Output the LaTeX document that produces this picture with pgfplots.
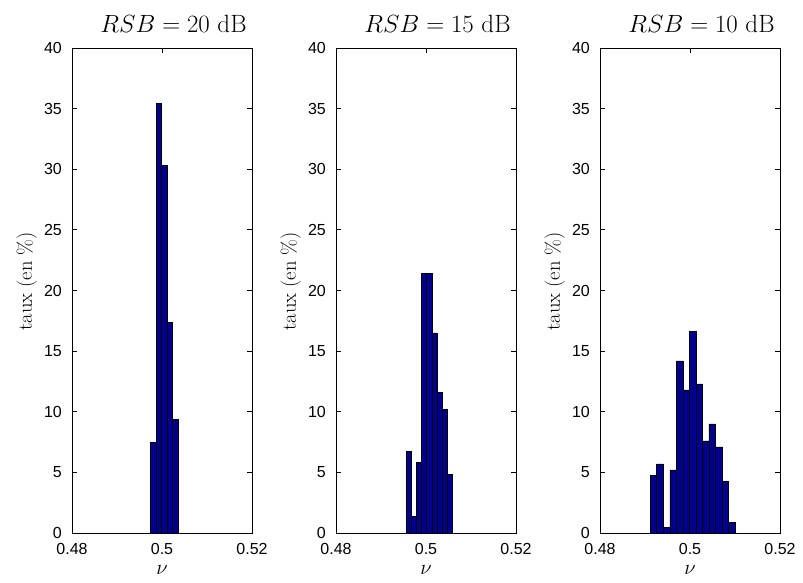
\documentclass[border=0pt]{standalone}
\usepackage{fontspec}
\newfontfamily\arialf{Liberation Sans}
\usepackage{pgfplots}
\pgfplotsset{compat=1.18}
\definecolor{barblue}{RGB}{0,0,140}
\pgfplotsset{hist/.style={
  ybar, scale only axis, width=180pt, height=485pt,
  xmin=0.48, xmax=0.52, ymin=0, ymax=40,
  xtick={0.48,0.5,0.52}, xticklabels={0.48,0.5,0.52},
  ytick={0,5,...,40},
  tick align=inside, tick pos=both, major tick length=5pt,
  axis line style={line width=0.8pt},
  every tick/.style={black, line width=0.8pt},
  ticklabel style={font=\arialf\fontsize{16}{19}\selectfont, inner sep=0pt},
  /pgf/number format/assume math mode=true,
  yticklabel style={xshift=-10pt},
  xticklabel style={yshift=-10pt},
  ylabel={taux (en \%)},
  ylabel style={at={(axis description cs:-0.194,0.519)}, anchor=south, inner sep=0pt, font=\fontsize{20.5}{24}\selectfont},
  xlabel={$\nu$},
  xlabel style={at={(axis description cs:0.5,-0.066)}, anchor=north, inner sep=0pt, font=\fontsize{21}{25}\selectfont},
  title style={at={(axis description cs:0.564,1.0186)}, anchor=base, yshift=0pt, inner sep=0pt, font=\fontsize{25}{30}\selectfont},
}}
\pgfplotsset{histbar/.style={fill=barblue, draw=black, line width=0.6pt}}
\begin{document}
\begin{tikzpicture}
\begin{axis}[hist, at={(72pt,50pt)}, anchor=south west, bar width=0.00121, title={$RSB = 20$ dB}]
\addplot[histbar] coordinates {(0.49810,7.5) (0.49931,35.4) (0.50052,30.3) (0.50173,17.4) (0.50294,9.4)};
\end{axis}
\begin{axis}[hist, at={(336pt,50pt)}, anchor=south west, bar width=0.001142, title={$RSB = 15$ dB}]
\addplot[histbar] coordinates {(0.49615,6.7) (0.49729,1.4) (0.49843,5.8) (0.49958,21.4) (0.50072,21.4) (0.50186,16.5) (0.50300,11.6) (0.50415,10.2) (0.50529,4.8)};
\end{axis}
\begin{axis}[hist, at={(600pt,50pt)}, anchor=south west, bar width=0.00145, title={$RSB = 10$ dB}]
\addplot[histbar] coordinates {(0.49189,4.75) (0.49334,5.7) (0.49479,0.45) (0.49624,5.2) (0.49769,14.2) (0.49914,11.8) (0.50059,16.6) (0.50204,12.3) (0.50349,7.6) (0.50494,9.0) (0.50639,7.1) (0.50784,4.25) (0.50929,0.9)};
\end{axis}
\pgfresetboundingbox
\path[use as bounding box] (0pt,0pt) rectangle (803pt,583pt);
\end{tikzpicture}
\end{document}
